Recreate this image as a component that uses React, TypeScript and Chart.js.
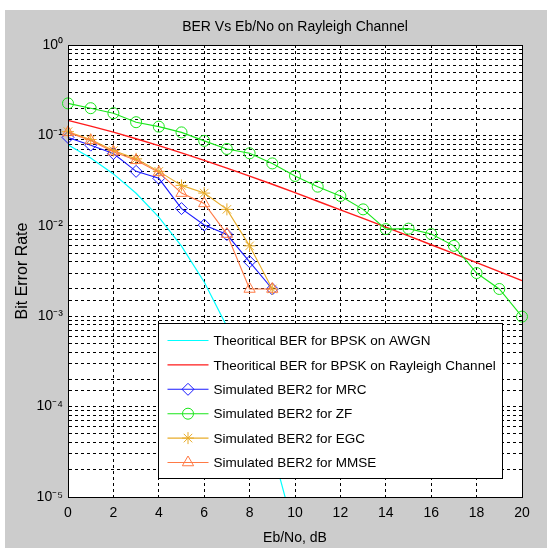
import React, { useEffect, useRef } from 'react';
import { Chart, registerables } from 'chart.js';
import { drawPoint } from 'chart.js/helpers';

Chart.register(...registerables);

// ---- data ----
const ebNo = [0, 1, 2, 3, 4, 5, 6, 7, 8, 9, 10, 11, 12, 13, 14, 15, 16, 17, 18, 19, 20];
const awgnBer = [0.0786, 0.0563, 0.0375, 0.0229, 0.0125, 0.00595, 0.00239, 0.00077, 0.000191, 0.0000336, 0.0000039];
const rayleighBer = [0.1464, 0.1267, 0.1085, 0.0919, 0.0771, 0.0642, 0.053, 0.0435, 0.0355, 0.0288, 0.0233,
  0.0187, 0.015, 0.0121, 0.00967, 0.00774, 0.00617, 0.00492, 0.00391, 0.00312, 0.00248];
const mrcBer = [0.095, 0.078, 0.063, 0.04, 0.0335, 0.0155, 0.0102, 0.008, 0.004, 0.002];
const zfBer = [0.226, 0.2, 0.176, 0.14, 0.125, 0.108, 0.087, 0.0708, 0.0634, 0.049, 0.0356,
  0.0271, 0.0214, 0.0152, 0.0092, 0.0093, 0.0081, 0.006, 0.003, 0.002, 0.00099];
const egcBer = [0.11, 0.09, 0.068, 0.055, 0.04, 0.028, 0.023, 0.0152, 0.006, 0.002];
const mmseBer = [0.108, 0.088, 0.066, 0.053, 0.039, 0.023, 0.0177, 0.0081, 0.002, 0.002];

const seriesLabels = [
  'Theoritical BER for BPSK on AWGN',
  'Theoritical BER for BPSK on Rayleigh Channel',
  'Simulated BER2 for MRC',
  'Simulated BER2 for ZF',
  'Simulated BER2 for EGC',
  'Simulated BER2 for MMSE',
];
const chartTitle = 'BER Vs Eb/No on Rayleigh Channel';
const xTitle = 'Eb/No, dB';
const yTitle = 'Bit Error Rate';
const xMin = 0;
const xMax = 20;
const xStep = 2;
const yMin = 1e-5;
const yMax = 1;

const FONT = "'Liberation Sans', Arial, sans-serif";

const SUP: Record<string, string> = {
  '-': '\u207B', '0': '\u2070', '1': '\u00B9', '2': '\u00B2', '3': '\u00B3',
  '4': '\u2074', '5': '\u2075', '6': '\u2076', '7': '\u2077', '8': '\u2078', '9': '\u2079',
};
const supText = (n: number) => String(n).split('').map((c) => SUP[c] || c).join('');

const pts = (ys: number[]) => ys.map((y, i) => ({ x: ebNo[i], y }));

const plotBg = {
  id: 'plotBg',
  beforeDraw(chart: any) {
    const { ctx, chartArea: a } = chart;
    ctx.save();
    ctx.fillStyle = '#ffffff';
    ctx.fillRect(a.left, a.top, a.right - a.left, a.bottom - a.top);
    ctx.restore();
  },
  afterDraw(chart: any) {
    const { ctx, chartArea: a } = chart;
    ctx.save();
    ctx.strokeStyle = '#000';
    ctx.lineWidth = 1;
    ctx.strokeRect(Math.round(a.left) + 0.5, Math.round(a.top) + 0.5, Math.round(a.right - a.left), Math.round(a.bottom - a.top));
    ctx.restore();
  },
};

const boxLegend = {
  id: 'boxLegend',
  afterDraw(chart: any) {
    const { ctx, chartArea: a } = chart;
    const left = Math.round(a.left + 90) + 0.5;
    const top = Math.round(a.top + 278) + 0.5;
    const right = Math.round(a.right - 20) + 0.5;
    const bottom = Math.round(a.bottom - 19) + 0.5;
    ctx.save();
    ctx.fillStyle = '#fff';
    ctx.fillRect(left, top, right - left, bottom - top);
    ctx.strokeStyle = '#000';
    ctx.lineWidth = 1;
    ctx.strokeRect(left, top, right - left, bottom - top);
    const rowStart = top + 17;
    const rowStep = 24.4;
    chart.data.datasets.forEach((ds: any, i: number) => {
      const y = rowStart + i * rowStep;
      const x0 = left + 9;
      const x1 = left + 50;
      ctx.save();
      ctx.strokeStyle = ds.borderColor;
      ctx.lineWidth = ds.borderWidth;
      ctx.beginPath();
      ctx.moveTo(x0, y);
      ctx.lineTo(x1, y);
      ctx.stroke();
      if (ds.pointRadius > 0) {
        ctx.fillStyle = 'rgba(0,0,0,0)';
        ctx.strokeStyle = ds.pointBorderColor || ds.borderColor;
        ctx.lineWidth = ds.pointBorderWidth || 1;
        drawPoint(ctx, { pointStyle: ds.pointStyle, radius: ds.pointRadius, borderWidth: ds.pointBorderWidth || 1, rotation: 0 }, (x0 + x1) / 2, y);
      }
      ctx.restore();
      ctx.fillStyle = '#000';
      ctx.font = `13.5px ${FONT}`;
      ctx.textBaseline = 'middle';
      ctx.textAlign = 'left';
      ctx.fillText(ds.label, left + 55, y + 1);
    });
    ctx.restore();
  },
};

export default function App() {
  const canvasRef = useRef<HTMLCanvasElement | null>(null);

  useEffect(() => {
    if (!canvasRef.current) return;
    const marker = (color: string, style: string, r: number, order: number, data: any[], label: string) => ({
      label,
      data,
      borderColor: color,
      backgroundColor: 'rgba(0,0,0,0)',
      borderWidth: 1.1,
      pointStyle: style,
      pointRadius: r,
      pointBorderWidth: 1,
      pointBorderColor: color,
      pointBackgroundColor: 'rgba(0,0,0,0)',
      tension: 0,
      order,
      clip: false as const,
    });
    const chart = new Chart(canvasRef.current, {
      type: 'line',
      data: {
        datasets: [
          {
            label: seriesLabels[0], data: pts(awgnBer), borderColor: '#00ffff', backgroundColor: 'rgba(0,0,0,0)',
            borderWidth: 1.2, pointRadius: 0, tension: 0, order: 6,
          },
          {
            label: seriesLabels[1], data: pts(rayleighBer), borderColor: '#ff1a1a', backgroundColor: 'rgba(0,0,0,0)',
            borderWidth: 1.4, pointRadius: 0, tension: 0, order: 5, clip: false as const,
          },
          marker('#1a1aff', 'rectRot', 6, 4, pts(mrcBer), seriesLabels[2]),
          marker('#19e619', 'circle', 5.5, 3, pts(zfBer), seriesLabels[3]),
          marker('#e8ac2a', 'star', 6, 2, pts(egcBer), seriesLabels[4]),
          marker('#ff7a45', 'triangle', 6.5, 1, pts(mmseBer), seriesLabels[5]),
        ] as any,
      },
      options: {
        animation: false,
        responsive: false,
        devicePixelRatio: 1,
        color: '#000',
        font: { family: FONT, size: 14 },
        layout: { padding: { left: 0, right: 25, top: 0, bottom: 0 } },
        plugins: {
          legend: { display: false },
          tooltip: { enabled: false },
          title: {
            display: true,
            fullSize: false,
            text: chartTitle,
            color: '#000',
            font: { family: FONT, size: 14, weight: 'normal' },
            padding: { top: 18.6, bottom: 9.6 },
          },
        },
        scales: {
          x: {
            type: 'linear',
            min: xMin,
            max: xMax,
            afterFit: (s: any) => { s.height = 53; },
            ticks: { stepSize: xStep, color: '#000', padding: 8, font: { family: FONT, size: 14 } },
            grid: { color: '#000', lineWidth: 1, drawTicks: false },
            border: { display: true, color: '#000', width: 1, dash: [3, 3] },
            title: {
              display: true, text: xTitle, color: '#000',
              font: { family: FONT, size: 14 }, padding: { top: 3.6, bottom: 3.6 },
            },
          },
          y: {
            type: 'logarithmic',
            min: yMin,
            max: yMax,
            afterFit: (s: any) => { s.width = 68; },
            ticks: {
              autoSkip: false,
              color: '#000',
              padding: 5,
              font: { family: FONT, size: 14 },
              callback: (v: any) => {
                const e = Math.log10(Number(v));
                const r = Math.round(e);
                return Math.abs(e - r) < 1e-6 ? '10' + supText(r) : '';
              },
            },
            grid: { color: '#000', lineWidth: 1, drawTicks: false },
            border: { display: true, color: '#000', width: 1, dash: [3, 3] },
            title: {
              display: true, text: yTitle, color: '#000',
              font: { family: FONT, size: 16 }, padding: { top: 13.4, bottom: 0 },
            },
          },
        },
      },
      plugins: [plotBg, boxLegend],
    });
    return () => chart.destroy();
  }, []);

  return (
    <div style={{ position: 'absolute', left: 0, top: 0, width: 547, height: 550, background: '#fff' }}>
      <div style={{ position: 'absolute', left: 5, top: 10, width: 542, height: 538, background: '#cccccc' }} />
      <canvas ref={canvasRef} width={547} height={550} style={{ position: 'absolute', left: 0, top: 0, width: 547, height: 550 }} />
    </div>
  );
}
